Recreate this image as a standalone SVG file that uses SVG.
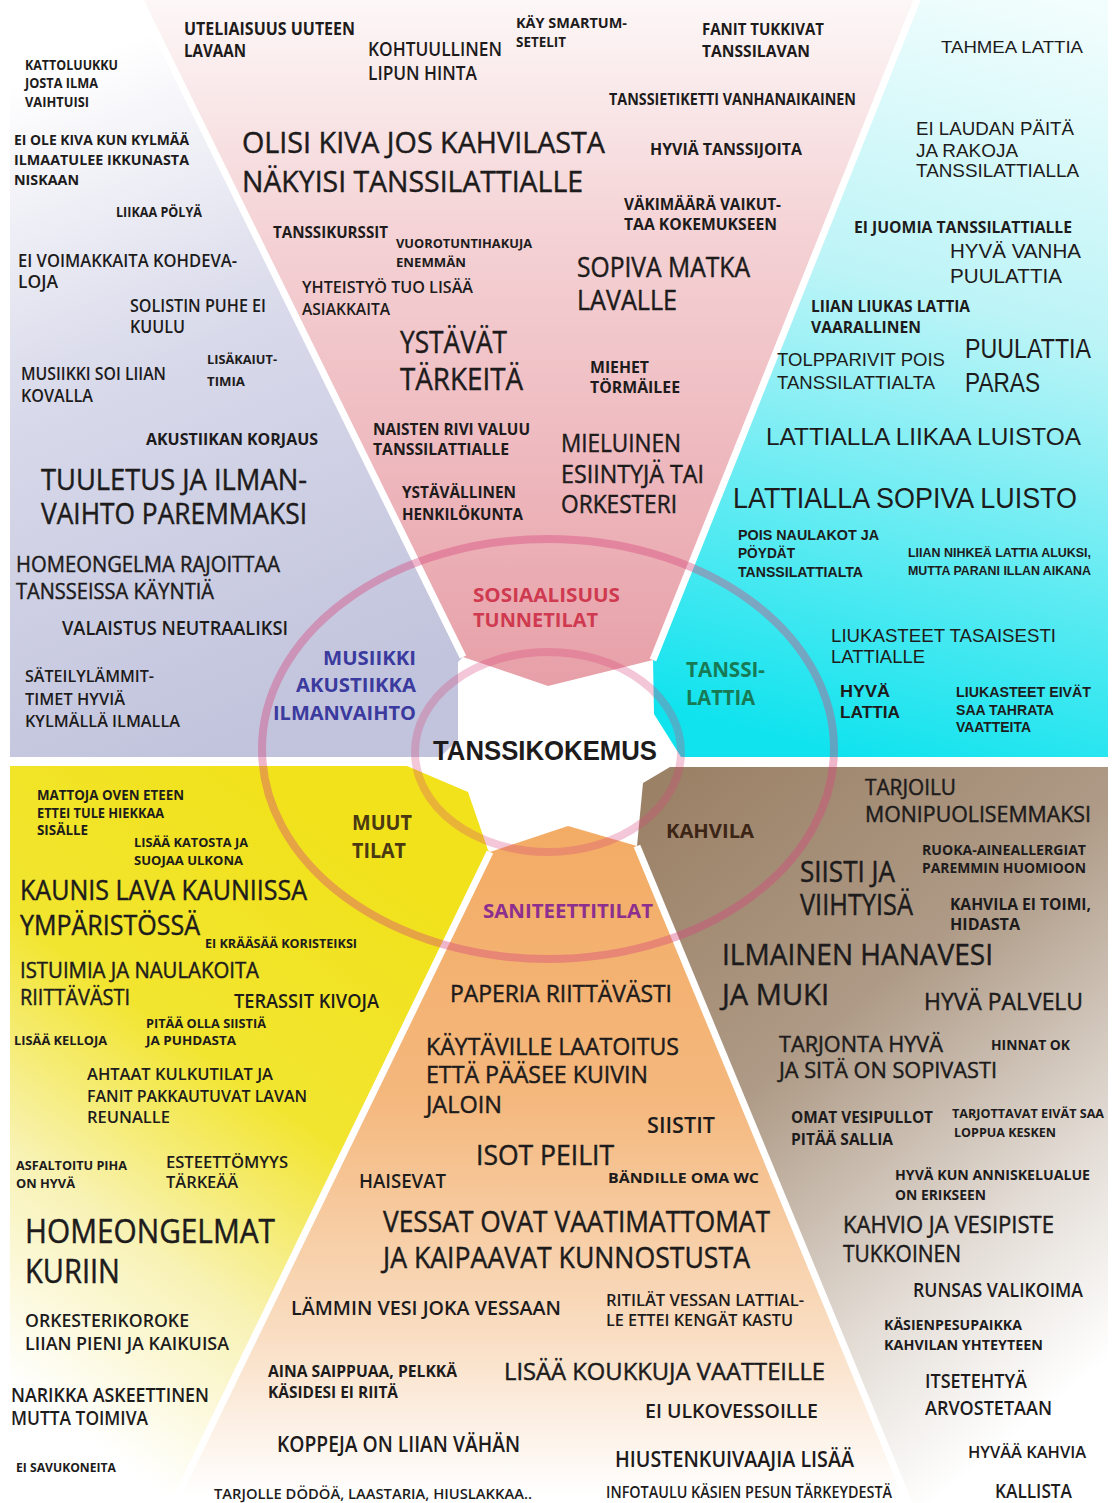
<svg xmlns="http://www.w3.org/2000/svg" width="1114" height="1503" viewBox="0 0 1114 1503">
<style>
.t{font-family:"Open Sans","Liberation Sans",Arial,sans-serif;fill:#1d1b1b}
.h{font-family:"Liberation Sans",Arial,sans-serif;fill:#1d1b1b}
.b{font-weight:700}
.sb{font-weight:600}
.r{font-weight:400}
.t.r{stroke:#1d1b1b;stroke-width:0.45}
.sep{stroke:#ffffff;stroke-width:7;fill:none}
.ring{fill:none;stroke:#d6467c;stroke-width:8}
</style>
<defs>
<linearGradient id="gPink" gradientUnits="userSpaceOnUse" x1="0" y1="0" x2="0" y2="690">
<stop offset="0" stop-color="#fdf7f7"/><stop offset="0.35" stop-color="#f4d1d4"/><stop offset="1" stop-color="#e79fa7"/>
</linearGradient>
<linearGradient id="gPurple" gradientUnits="userSpaceOnUse" x1="80" y1="60" x2="330" y2="700">
<stop offset="0" stop-color="#ffffff"/><stop offset="0.45" stop-color="#d8d9ea"/><stop offset="1" stop-color="#c2c4dd"/>
</linearGradient>
<linearGradient id="gCyan" gradientUnits="userSpaceOnUse" x1="1050" y1="0" x2="850" y2="757">
<stop offset="0" stop-color="#f2fdfd"/><stop offset="0.4" stop-color="#bdf4f7"/><stop offset="1" stop-color="#10e3ee"/>
</linearGradient>
<linearGradient id="gYellow" gradientUnits="userSpaceOnUse" x1="430" y1="900" x2="60" y2="1420">
<stop offset="0" stop-color="#f1e21c"/><stop offset="0.4" stop-color="#f2e530"/><stop offset="0.7" stop-color="#f8f2b5"/><stop offset="1" stop-color="#ffffff"/>
</linearGradient>
<linearGradient id="gOrange" gradientUnits="userSpaceOnUse" x1="0" y1="826" x2="0" y2="1495">
<stop offset="0" stop-color="#f3ac65"/><stop offset="0.4" stop-color="#f4b77c"/><stop offset="0.75" stop-color="#f9dcc0"/><stop offset="1" stop-color="#ffffff"/>
</linearGradient>
<linearGradient id="gBrown" gradientUnits="userSpaceOnUse" x1="660" y1="790" x2="1120" y2="1350">
<stop offset="0" stop-color="#9b8166"/><stop offset="0.4" stop-color="#ae9a86"/><stop offset="0.75" stop-color="#e2dbd4"/><stop offset="1" stop-color="#ffffff"/>
</linearGradient>
</defs>
<rect width="1114" height="1503" fill="#ffffff"/>
<g id="sectors">
<polygon id="sec-musiikki" fill="url(#gPurple)" points="10,0 140,0 463,657 458,662 458,740 440,757 10,757"/>
<polygon id="sec-sosiaalisuus" fill="url(#gPink)" points="140,0 917,0 653,660 548,686 463,657"/>
<polygon id="sec-tanssilattia" fill="url(#gCyan)" points="917,0 1108,0 1108,757 681,757 654,714 653,660"/>
<polygon id="sec-muut" fill="url(#gYellow)" points="10,766 407,766 468,792 488,850 490,852 174,1503 10,1503"/>
<polygon id="sec-saniteetti" fill="url(#gOrange)" points="490,852 568,826 637,846 909,1503 174,1503"/>
<polygon id="sec-kahvila" fill="url(#gBrown)" points="670,767 1108,767 1108,1503 909,1503 637,846 643,783"/>
</g>
<g id="connectors">
<line class="sep" x1="135" y1="-10" x2="463" y2="657"/>
<line class="sep" x1="921" y1="-10" x2="653" y2="660"/>
<line class="sep" x1="490" y1="852" x2="168" y2="1515"/>
<line class="sep" x1="637" y1="846" x2="914" y2="1515"/>
<ellipse class="ring" cx="548" cy="749" rx="286" ry="210" opacity="0.4"/>
<ellipse class="ring" cx="548" cy="752" rx="133" ry="100" opacity="0.3"/>
</g>

<g id="center">
<text class="h b" font-size="27" x="433" y="760" textLength="224" lengthAdjust="spacingAndGlyphs">TANSSIKOKEMUS</text>
</g>

<g id="cat-sosiaalisuus">
<text class="t b" style="fill:#cf3a50" font-size="20" x="473" y="602" textLength="147" lengthAdjust="spacingAndGlyphs">SOSIAALISUUS</text>
<text class="t b" style="fill:#cf3a50" font-size="20" x="473" y="627" textLength="125" lengthAdjust="spacingAndGlyphs">TUNNETILAT</text>
</g>
<g id="cat-musiikki">
<text class="t b" style="fill:#3b3a9e" font-size="20" x="323" y="665" textLength="93" lengthAdjust="spacingAndGlyphs">MUSIIKKI</text>
<text class="t b" style="fill:#3b3a9e" font-size="20" x="296" y="692" textLength="120" lengthAdjust="spacingAndGlyphs">AKUSTIIKKA</text>
<text class="t b" style="fill:#3b3a9e" font-size="20" x="273" y="720" textLength="143" lengthAdjust="spacingAndGlyphs">ILMANVAIHTO</text>
</g>
<g id="cat-tanssilattia">
<text class="t b" style="fill:#187a55" font-size="21" x="686" y="677" textLength="79" lengthAdjust="spacingAndGlyphs">TANSSI-</text>
<text class="t b" style="fill:#187a55" font-size="21" x="686" y="705" textLength="69" lengthAdjust="spacingAndGlyphs">LATTIA</text>
</g>
<g id="cat-muut">
<text class="t b" style="fill:#4b3912" font-size="21" x="352" y="830" textLength="60" lengthAdjust="spacingAndGlyphs">MUUT</text>
<text class="t b" style="fill:#4b3912" font-size="21" x="352" y="858" textLength="54" lengthAdjust="spacingAndGlyphs">TILAT</text>
</g>
<g id="cat-saniteetti">
<text class="t b" style="fill:#8c2f8f" font-size="20" x="483" y="918" textLength="170" lengthAdjust="spacingAndGlyphs">SANITEETTITILAT</text>
</g>
<g id="cat-kahvila">
<text class="t b" style="fill:#3d2516" font-size="20" x="666" y="838" textLength="88" lengthAdjust="spacingAndGlyphs">KAHVILA</text>
</g>

<g id="notes-sosiaalisuus">
<g id="n-uteliaisuus"><text class="t b" font-size="17" x="184" y="35" textLength="171" lengthAdjust="spacingAndGlyphs">UTELIAISUUS UUTEEN</text><text class="t b" font-size="17" x="184" y="57" textLength="62" lengthAdjust="spacingAndGlyphs">LAVAAN</text></g>
<g id="n-kohtuullinen"><text class="t sb" font-size="20" x="368" y="56" textLength="134" lengthAdjust="spacingAndGlyphs">KOHTUULLINEN</text><text class="t sb" font-size="20" x="368" y="80" textLength="109" lengthAdjust="spacingAndGlyphs">LIPUN HINTA</text></g>
<g id="n-smartum"><text class="t b" font-size="14" x="516" y="28" textLength="111" lengthAdjust="spacingAndGlyphs">KÄY SMARTUM-</text><text class="t b" font-size="14" x="516" y="47" textLength="50" lengthAdjust="spacingAndGlyphs">SETELIT</text></g>
<g id="n-fanit"><text class="t b" font-size="16" x="702" y="35" textLength="122" lengthAdjust="spacingAndGlyphs">FANIT TUKKIVAT</text><text class="t b" font-size="16" x="702" y="57" textLength="108" lengthAdjust="spacingAndGlyphs">TANSSILAVAN</text></g>
<g id="n-tanssietiketti"><text class="t b" font-size="16" x="609" y="105" textLength="247" lengthAdjust="spacingAndGlyphs">TANSSIETIKETTI VANHANAIKAINEN</text></g>
<g id="n-olisikiva"><text class="t r" font-size="30" x="242" y="153" textLength="363" lengthAdjust="spacingAndGlyphs">OLISI KIVA JOS KAHVILASTA</text><text class="t r" font-size="30" x="242" y="192" textLength="341" lengthAdjust="spacingAndGlyphs">NÄKYISI TANSSILATTIALLE</text></g>
<g id="n-hyviatanssijoita"><text class="t b" font-size="16" x="650" y="155" textLength="152" lengthAdjust="spacingAndGlyphs">HYVIÄ TANSSIJOITA</text></g>
<g id="n-vakimaara"><text class="t b" font-size="16" x="624" y="210" textLength="157" lengthAdjust="spacingAndGlyphs">VÄKIMÄÄRÄ VAIKUT-</text><text class="t b" font-size="16" x="624" y="230" textLength="153" lengthAdjust="spacingAndGlyphs">TAA KOKEMUKSEEN</text></g>
<g id="n-tanssikurssit"><text class="t b" font-size="16" x="273" y="238" textLength="115" lengthAdjust="spacingAndGlyphs">TANSSIKURSSIT</text></g>
<g id="n-vuorotunti"><text class="t b" font-size="13" x="396" y="248" textLength="136" lengthAdjust="spacingAndGlyphs">VUOROTUNTIHAKUJA</text><text class="t b" font-size="13" x="396" y="267" textLength="70" lengthAdjust="spacingAndGlyphs">ENEMMÄN</text></g>
<g id="n-yhteistyo"><text class="t sb" font-size="17" x="302" y="293" textLength="171" lengthAdjust="spacingAndGlyphs">YHTEISTYÖ TUO LISÄÄ</text><text class="t sb" font-size="17" x="302" y="315" textLength="88" lengthAdjust="spacingAndGlyphs">ASIAKKAITA</text></g>
<g id="n-sopivamatka"><text class="t r" font-size="27" x="577" y="277" textLength="173" lengthAdjust="spacingAndGlyphs">SOPIVA MATKA</text><text class="t r" font-size="27" x="577" y="310" textLength="100" lengthAdjust="spacingAndGlyphs">LAVALLE</text></g>
<g id="n-ystavat"><text class="t r" font-size="31" x="400" y="353" textLength="107" lengthAdjust="spacingAndGlyphs">YSTÄVÄT</text><text class="t r" font-size="31" x="400" y="390" textLength="123" lengthAdjust="spacingAndGlyphs">TÄRKEITÄ</text></g>
<g id="n-miehet"><text class="t b" font-size="16" x="590" y="373" textLength="59" lengthAdjust="spacingAndGlyphs">MIEHET</text><text class="t b" font-size="16" x="590" y="393" textLength="90" lengthAdjust="spacingAndGlyphs">TÖRMÄILEE</text></g>
<g id="n-naisten"><text class="t b" font-size="16" x="373" y="435" textLength="157" lengthAdjust="spacingAndGlyphs">NAISTEN RIVI VALUU</text><text class="t b" font-size="16" x="373" y="455" textLength="136" lengthAdjust="spacingAndGlyphs">TANSSILATTIALLE</text></g>
<g id="n-mieluinen"><text class="t r" font-size="25" x="561" y="452" textLength="120" lengthAdjust="spacingAndGlyphs">MIELUINEN</text><text class="t r" font-size="25" x="561" y="483" textLength="143" lengthAdjust="spacingAndGlyphs">ESIINTYJÄ TAI</text><text class="t r" font-size="25" x="561" y="513" textLength="116" lengthAdjust="spacingAndGlyphs">ORKESTERI</text></g>
<g id="n-ystavallinen"><text class="t b" font-size="16" x="402" y="498" textLength="114" lengthAdjust="spacingAndGlyphs">YSTÄVÄLLINEN</text><text class="t b" font-size="16" x="402" y="520" textLength="121" lengthAdjust="spacingAndGlyphs">HENKILÖKUNTA</text></g>
</g>

<g id="notes-musiikki">
<g id="n-kattoluukku"><text class="t b" font-size="14" x="25" y="70" textLength="93" lengthAdjust="spacingAndGlyphs">KATTOLUUKKU</text><text class="t b" font-size="14" x="25" y="88" textLength="73" lengthAdjust="spacingAndGlyphs">JOSTA ILMA</text><text class="t b" font-size="14" x="25" y="107" textLength="64" lengthAdjust="spacingAndGlyphs">VAIHTUISI</text></g>
<g id="n-kylmaa"><text class="t b" font-size="15" x="14" y="145" textLength="175" lengthAdjust="spacingAndGlyphs">EI OLE KIVA KUN KYLMÄÄ</text><text class="t b" font-size="15" x="14" y="165" textLength="175" lengthAdjust="spacingAndGlyphs">ILMAATULEE IKKUNASTA</text><text class="t b" font-size="15" x="14" y="185" textLength="65" lengthAdjust="spacingAndGlyphs">NISKAAN</text></g>
<g id="n-polya"><text class="t b" font-size="14" x="116" y="217" textLength="86" lengthAdjust="spacingAndGlyphs">LIIKAA PÖLYÄ</text></g>
<g id="n-kohdevaloja"><text class="t sb" font-size="18" x="18" y="267" textLength="219" lengthAdjust="spacingAndGlyphs">EI VOIMAKKAITA KOHDEVA-</text><text class="t sb" font-size="18" x="18" y="288" textLength="40" lengthAdjust="spacingAndGlyphs">LOJA</text></g>
<g id="n-solistin"><text class="t sb" font-size="18" x="130" y="312" textLength="136" lengthAdjust="spacingAndGlyphs">SOLISTIN PUHE EI</text><text class="t sb" font-size="18" x="130" y="333" textLength="55" lengthAdjust="spacingAndGlyphs">KUULU</text></g>
<g id="n-kovalla"><text class="t sb" font-size="18" x="21" y="380" textLength="145" lengthAdjust="spacingAndGlyphs">MUSIIKKI SOI LIIAN</text><text class="t sb" font-size="18" x="21" y="402" textLength="72" lengthAdjust="spacingAndGlyphs">KOVALLA</text></g>
<g id="n-lisakaiut"><text class="t b" font-size="13" x="207" y="364" textLength="70" lengthAdjust="spacingAndGlyphs">LISÄKAIUT-</text><text class="t b" font-size="13" x="207" y="386" textLength="38" lengthAdjust="spacingAndGlyphs">TIMIA</text></g>
<g id="n-akustiikan"><text class="t b" font-size="16" x="146" y="445" textLength="172" lengthAdjust="spacingAndGlyphs">AKUSTIIKAN KORJAUS</text></g>
<g id="n-tuuletus"><text class="t r" font-size="29" x="41" y="490" textLength="266" lengthAdjust="spacingAndGlyphs">TUULETUS JA ILMAN-</text><text class="t r" font-size="29" x="41" y="524" textLength="266" lengthAdjust="spacingAndGlyphs">VAIHTO PAREMMAKSI</text></g>
<g id="n-homeongelma"><text class="t r" font-size="22" x="16" y="572" textLength="264" lengthAdjust="spacingAndGlyphs">HOMEONGELMA RAJOITTAA</text><text class="t r" font-size="22" x="16" y="599" textLength="198" lengthAdjust="spacingAndGlyphs">TANSSEISSA KÄYNTIÄ</text></g>
<g id="n-valaistus"><text class="t sb" font-size="20" x="62" y="635" textLength="226" lengthAdjust="spacingAndGlyphs">VALAISTUS NEUTRAALIKSI</text></g>
<g id="n-sateily"><text class="t sb" font-size="17" x="25" y="682" textLength="129" lengthAdjust="spacingAndGlyphs">SÄTEILYLÄMMIT-</text><text class="t sb" font-size="17" x="25" y="705" textLength="100" lengthAdjust="spacingAndGlyphs">TIMET HYVIÄ</text><text class="t sb" font-size="17" x="25" y="727" textLength="155" lengthAdjust="spacingAndGlyphs">KYLMÄLLÄ ILMALLA</text></g>
</g>

<g id="notes-tanssilattia">
<g id="n-tahmea"><text class="h r" font-size="16" x="941" y="53" textLength="142" lengthAdjust="spacingAndGlyphs">TAHMEA LATTIA</text></g>
<g id="n-laudan"><text class="h r" font-size="18" x="916" y="135" textLength="158" lengthAdjust="spacingAndGlyphs">EI LAUDAN PÄITÄ</text><text class="h r" font-size="18" x="916" y="157" textLength="102" lengthAdjust="spacingAndGlyphs">JA RAKOJA</text><text class="h r" font-size="18" x="916" y="177" textLength="163" lengthAdjust="spacingAndGlyphs">TANSSILATTIALLA</text></g>
<g id="n-juomia"><text class="t b" font-size="16" x="854" y="233" textLength="218" lengthAdjust="spacingAndGlyphs">EI JUOMIA TANSSILATTIALLE</text></g>
<g id="n-hyvavanha"><text class="h r" font-size="21" x="950" y="258" textLength="131" lengthAdjust="spacingAndGlyphs">HYVÄ VANHA</text><text class="h r" font-size="21" x="950" y="283" textLength="112" lengthAdjust="spacingAndGlyphs">PUULATTIA</text></g>
<g id="n-liukas"><text class="t b" font-size="16" x="811" y="312" textLength="159" lengthAdjust="spacingAndGlyphs">LIIAN LIUKAS LATTIA</text><text class="t b" font-size="16" x="811" y="333" textLength="110" lengthAdjust="spacingAndGlyphs">VAARALLINEN</text></g>
<g id="n-tolpparivit"><text class="h r" font-size="18" x="777" y="366" textLength="168" lengthAdjust="spacingAndGlyphs">TOLPPARIVIT POIS</text><text class="h r" font-size="18" x="777" y="389" textLength="158" lengthAdjust="spacingAndGlyphs">TANSSILATTIALTA</text></g>
<g id="n-puulattia"><text class="h r" font-size="28" x="965" y="358" textLength="126" lengthAdjust="spacingAndGlyphs">PUULATTIA</text><text class="h r" font-size="28" x="965" y="392" textLength="75" lengthAdjust="spacingAndGlyphs">PARAS</text></g>
<g id="n-liikaaluistoa"><text class="h r" font-size="23" x="766" y="445" textLength="315" lengthAdjust="spacingAndGlyphs">LATTIALLA LIIKAA LUISTOA</text></g>
<g id="n-sopivaluisto"><text class="h r" font-size="29" x="733" y="508" textLength="344" lengthAdjust="spacingAndGlyphs">LATTIALLA SOPIVA LUISTO</text></g>
<g id="n-naulakot"><text class="h b" font-size="14" x="738" y="540" textLength="141" lengthAdjust="spacingAndGlyphs">POIS NAULAKOT JA</text><text class="h b" font-size="14" x="738" y="558" textLength="57" lengthAdjust="spacingAndGlyphs">PÖYDÄT</text><text class="h b" font-size="14" x="738" y="577" textLength="125" lengthAdjust="spacingAndGlyphs">TANSSILATTIALTA</text></g>
<g id="n-nihkea"><text class="h b" font-size="13" x="908" y="557" textLength="183" lengthAdjust="spacingAndGlyphs">LIIAN NIHKEÄ LATTIA ALUKSI,</text><text class="h b" font-size="13" x="908" y="575" textLength="183" lengthAdjust="spacingAndGlyphs">MUTTA PARANI ILLAN AIKANA</text></g>
<g id="n-liukasteet"><text class="h r" font-size="19" x="831" y="642" textLength="225" lengthAdjust="spacingAndGlyphs">LIUKASTEET TASAISESTI</text><text class="h r" font-size="19" x="831" y="663" textLength="94" lengthAdjust="spacingAndGlyphs">LATTIALLE</text></g>
<g id="n-hyvalattia"><text class="h b" font-size="16" x="840" y="697" textLength="50" lengthAdjust="spacingAndGlyphs">HYVÄ</text><text class="h b" font-size="16" x="840" y="718" textLength="60" lengthAdjust="spacingAndGlyphs">LATTIA</text></g>
<g id="n-tahrata"><text class="h b" font-size="14" x="956" y="697" textLength="135" lengthAdjust="spacingAndGlyphs">LIUKASTEET EIVÄT</text><text class="h b" font-size="14" x="956" y="715" textLength="98" lengthAdjust="spacingAndGlyphs">SAA TAHRATA</text><text class="h b" font-size="14" x="956" y="732" textLength="75" lengthAdjust="spacingAndGlyphs">VAATTEITA</text></g>
</g>

<g id="notes-muut">
<g id="n-mattoja"><text class="t b" font-size="14" x="37" y="800" textLength="147" lengthAdjust="spacingAndGlyphs">MATTOJA OVEN ETEEN</text><text class="t b" font-size="14" x="37" y="818" textLength="127" lengthAdjust="spacingAndGlyphs">ETTEI TULE HIEKKAA</text><text class="t b" font-size="14" x="37" y="835" textLength="51" lengthAdjust="spacingAndGlyphs">SISÄLLE</text></g>
<g id="n-katosta"><text class="t b" font-size="13" x="134" y="847" textLength="114" lengthAdjust="spacingAndGlyphs">LISÄÄ KATOSTA JA</text><text class="t b" font-size="13" x="134" y="865" textLength="109" lengthAdjust="spacingAndGlyphs">SUOJAA ULKONA</text></g>
<g id="n-kaunislava"><text class="t r" font-size="28" x="20" y="900" textLength="287" lengthAdjust="spacingAndGlyphs">KAUNIS LAVA KAUNIISSA</text><text class="t r" font-size="28" x="20" y="935" textLength="180" lengthAdjust="spacingAndGlyphs">YMPÄRISTÖSSÄ</text></g>
<g id="n-kraasaa"><text class="t b" font-size="12" x="205" y="948" textLength="152" lengthAdjust="spacingAndGlyphs">EI KRÄÄSÄÄ KORISTEIKSI</text></g>
<g id="n-istuimia"><text class="t r" font-size="22" x="20" y="978" textLength="239" lengthAdjust="spacingAndGlyphs">ISTUIMIA JA NAULAKOITA</text><text class="t r" font-size="22" x="20" y="1005" textLength="110" lengthAdjust="spacingAndGlyphs">RIITTÄVÄSTI</text></g>
<g id="n-terassit"><text class="t sb" font-size="20" x="234" y="1008" textLength="145" lengthAdjust="spacingAndGlyphs">TERASSIT KIVOJA</text></g>
<g id="n-siistia"><text class="t b" font-size="13" x="146" y="1028" textLength="120" lengthAdjust="spacingAndGlyphs">PITÄÄ OLLA SIISTIÄ</text><text class="t b" font-size="13" x="146" y="1045" textLength="90" lengthAdjust="spacingAndGlyphs">JA PUHDASTA</text></g>
<g id="n-kelloja"><text class="t b" font-size="13" x="14" y="1045" textLength="93" lengthAdjust="spacingAndGlyphs">LISÄÄ KELLOJA</text></g>
<g id="n-ahtaat"><text class="t sb" font-size="17" x="87" y="1080" textLength="186" lengthAdjust="spacingAndGlyphs">AHTAAT KULKUTILAT JA</text><text class="t sb" font-size="17" x="87" y="1102" textLength="220" lengthAdjust="spacingAndGlyphs">FANIT PAKKAUTUVAT LAVAN</text><text class="t sb" font-size="17" x="87" y="1123" textLength="83" lengthAdjust="spacingAndGlyphs">REUNALLE</text></g>
<g id="n-asfaltoitu"><text class="t b" font-size="13" x="16" y="1170" textLength="111" lengthAdjust="spacingAndGlyphs">ASFALTOITU PIHA</text><text class="t b" font-size="13" x="16" y="1188" textLength="59" lengthAdjust="spacingAndGlyphs">ON HYVÄ</text></g>
<g id="n-esteettomyys"><text class="t sb" font-size="16" x="166" y="1168" textLength="122" lengthAdjust="spacingAndGlyphs">ESTEETTÖMYYS</text><text class="t sb" font-size="16" x="166" y="1188" textLength="72" lengthAdjust="spacingAndGlyphs">TÄRKEÄÄ</text></g>
<g id="n-homeongelmat"><text class="t r" font-size="33" x="25" y="1243" textLength="250" lengthAdjust="spacingAndGlyphs">HOMEONGELMAT</text><text class="t r" font-size="33" x="25" y="1283" textLength="95" lengthAdjust="spacingAndGlyphs">KURIIN</text></g>
<g id="n-orkesterikoroke"><text class="t sb" font-size="18" x="25" y="1327" textLength="164" lengthAdjust="spacingAndGlyphs">ORKESTERIKOROKE</text><text class="t sb" font-size="18" x="25" y="1350" textLength="204" lengthAdjust="spacingAndGlyphs">LIIAN PIENI JA KAIKUISA</text></g>
<g id="n-narikka"><text class="t sb" font-size="19" x="11" y="1402" textLength="198" lengthAdjust="spacingAndGlyphs">NARIKKA ASKEETTINEN</text><text class="t sb" font-size="19" x="11" y="1425" textLength="137" lengthAdjust="spacingAndGlyphs">MUTTA TOIMIVA</text></g>
<g id="n-savukoneita"><text class="t b" font-size="13" x="16" y="1472" textLength="100" lengthAdjust="spacingAndGlyphs">EI SAVUKONEITA</text></g>
</g>

<g id="notes-saniteetti">
<g id="n-paperia"><text class="t r" font-size="24" x="450" y="1002" textLength="222" lengthAdjust="spacingAndGlyphs">PAPERIA RIITTÄVÄSTI</text></g>
<g id="n-kaytaville"><text class="t r" font-size="24" x="426" y="1055" textLength="253" lengthAdjust="spacingAndGlyphs">KÄYTÄVILLE LAATOITUS</text><text class="t r" font-size="24" x="426" y="1083" textLength="222" lengthAdjust="spacingAndGlyphs">ETTÄ PÄÄSEE KUIVIN</text><text class="t r" font-size="24" x="426" y="1113" textLength="76" lengthAdjust="spacingAndGlyphs">JALOIN</text></g>
<g id="n-siistit"><text class="t sb" font-size="21" x="647" y="1133" textLength="68" lengthAdjust="spacingAndGlyphs">SIISTIT</text></g>
<g id="n-isotpeilit"><text class="t r" font-size="27" x="476" y="1165" textLength="138" lengthAdjust="spacingAndGlyphs">ISOT PEILIT</text></g>
<g id="n-haisevat"><text class="t sb" font-size="19" x="359" y="1188" textLength="87" lengthAdjust="spacingAndGlyphs">HAISEVAT</text></g>
<g id="n-bandille"><text class="t b" font-size="15" x="608" y="1183" textLength="151" lengthAdjust="spacingAndGlyphs">BÄNDILLE OMA WC</text></g>
<g id="n-vessat"><text class="t r" font-size="29" x="383" y="1232" textLength="387" lengthAdjust="spacingAndGlyphs">VESSAT OVAT VAATIMATTOMAT</text><text class="t r" font-size="29" x="383" y="1268" textLength="367" lengthAdjust="spacingAndGlyphs">JA KAIPAAVAT KUNNOSTUSTA</text></g>
<g id="n-lamminvesi"><text class="t sb" font-size="20" x="291" y="1315" textLength="270" lengthAdjust="spacingAndGlyphs">LÄMMIN VESI JOKA VESSAAN</text></g>
<g id="n-ritilat"><text class="t sb" font-size="16" x="606" y="1306" textLength="198" lengthAdjust="spacingAndGlyphs">RITILÄT VESSAN LATTIAL-</text><text class="t sb" font-size="16" x="606" y="1326" textLength="187" lengthAdjust="spacingAndGlyphs">LE ETTEI KENGÄT KASTU</text></g>
<g id="n-saippuaa"><text class="t b" font-size="16" x="268" y="1377" textLength="189" lengthAdjust="spacingAndGlyphs">AINA SAIPPUAA, PELKKÄ</text><text class="t b" font-size="16" x="268" y="1398" textLength="130" lengthAdjust="spacingAndGlyphs">KÄSIDESI EI RIITÄ</text></g>
<g id="n-koukkuja"><text class="t r" font-size="24" x="504" y="1380" textLength="321" lengthAdjust="spacingAndGlyphs">LISÄÄ KOUKKUJA VAATTEILLE</text></g>
<g id="n-ulkovessoille"><text class="t sb" font-size="20" x="645" y="1418" textLength="173" lengthAdjust="spacingAndGlyphs">EI ULKOVESSOILLE</text></g>
<g id="n-koppeja"><text class="t sb" font-size="21" x="277" y="1452" textLength="243" lengthAdjust="spacingAndGlyphs">KOPPEJA ON LIIAN VÄHÄN</text></g>
<g id="n-hiustenkuivaajia"><text class="t sb" font-size="21" x="615" y="1467" textLength="239" lengthAdjust="spacingAndGlyphs">HIUSTENKUIVAAJIA LISÄÄ</text></g>
<g id="n-tarjolle"><text class="t sb" font-size="15" x="214" y="1499" textLength="318" lengthAdjust="spacingAndGlyphs">TARJOLLE DÖDÖÄ, LAASTARIA, HIUSLAKKAA..</text></g>
<g id="n-infotaulu"><text class="t sb" font-size="17" x="606" y="1498" textLength="286" lengthAdjust="spacingAndGlyphs">INFOTAULU KÄSIEN PESUN TÄRKEYDESTÄ</text></g>
</g>

<g id="notes-kahvila">
<g id="n-tarjoilu"><text class="t r" font-size="22" x="865" y="795" textLength="91" lengthAdjust="spacingAndGlyphs">TARJOILU</text><text class="t r" font-size="22" x="865" y="822" textLength="226" lengthAdjust="spacingAndGlyphs">MONIPUOLISEMMAKSI</text></g>
<g id="n-ruoka"><text class="t b" font-size="14" x="922" y="855" textLength="164" lengthAdjust="spacingAndGlyphs">RUOKA-AINEALLERGIAT</text><text class="t b" font-size="14" x="922" y="873" textLength="164" lengthAdjust="spacingAndGlyphs">PAREMMIN HUOMIOON</text></g>
<g id="n-siistija"><text class="t r" font-size="29" x="800" y="882" textLength="95" lengthAdjust="spacingAndGlyphs">SIISTI JA</text><text class="t r" font-size="29" x="800" y="915" textLength="113" lengthAdjust="spacingAndGlyphs">VIIHTYISÄ</text></g>
<g id="n-eitoimi"><text class="t b" font-size="16" x="950" y="910" textLength="141" lengthAdjust="spacingAndGlyphs">KAHVILA EI TOIMI,</text><text class="t b" font-size="16" x="950" y="930" textLength="70" lengthAdjust="spacingAndGlyphs">HIDASTA</text></g>
<g id="n-hanavesi"><text class="t r" font-size="30" x="722" y="965" textLength="271" lengthAdjust="spacingAndGlyphs">ILMAINEN HANAVESI</text><text class="t r" font-size="30" x="722" y="1005" textLength="107" lengthAdjust="spacingAndGlyphs">JA MUKI</text></g>
<g id="n-palvelu"><text class="t r" font-size="24" x="924" y="1010" textLength="159" lengthAdjust="spacingAndGlyphs">HYVÄ PALVELU</text></g>
<g id="n-tarjonta"><text class="t r" font-size="22" x="779" y="1052" textLength="164" lengthAdjust="spacingAndGlyphs">TARJONTA HYVÄ</text><text class="t r" font-size="22" x="779" y="1078" textLength="218" lengthAdjust="spacingAndGlyphs">JA SITÄ ON SOPIVASTI</text></g>
<g id="n-hinnat"><text class="t b" font-size="15" x="991" y="1050" textLength="79" lengthAdjust="spacingAndGlyphs">HINNAT OK</text></g>
<g id="n-vesipullot"><text class="t b" font-size="16" x="791" y="1123" textLength="142" lengthAdjust="spacingAndGlyphs">OMAT VESIPULLOT</text><text class="t b" font-size="16" x="791" y="1145" textLength="102" lengthAdjust="spacingAndGlyphs">PITÄÄ SALLIA</text></g>
<g id="n-tarjottavat"><text class="t b" font-size="13" x="952" y="1118" textLength="152" lengthAdjust="spacingAndGlyphs">TARJOTTAVAT EIVÄT SAA</text><text class="t b" font-size="13" x="954" y="1137" textLength="102" lengthAdjust="spacingAndGlyphs">LOPPUA KESKEN</text></g>
<g id="n-anniskelu"><text class="t b" font-size="15" x="895" y="1180" textLength="195" lengthAdjust="spacingAndGlyphs">HYVÄ KUN ANNISKELUALUE</text><text class="t b" font-size="15" x="895" y="1200" textLength="91" lengthAdjust="spacingAndGlyphs">ON ERIKSEEN</text></g>
<g id="n-kahvio"><text class="t r" font-size="24" x="843" y="1233" textLength="211" lengthAdjust="spacingAndGlyphs">KAHVIO JA VESIPISTE</text><text class="t r" font-size="24" x="843" y="1262" textLength="118" lengthAdjust="spacingAndGlyphs">TUKKOINEN</text></g>
<g id="n-runsas"><text class="t sb" font-size="20" x="913" y="1297" textLength="170" lengthAdjust="spacingAndGlyphs">RUNSAS VALIKOIMA</text></g>
<g id="n-kasienpesu"><text class="t b" font-size="14" x="884" y="1330" textLength="138" lengthAdjust="spacingAndGlyphs">KÄSIENPESUPAIKKA</text><text class="t b" font-size="14" x="884" y="1350" textLength="159" lengthAdjust="spacingAndGlyphs">KAHVILAN YHTEYTEEN</text></g>
<g id="n-itsetehtya"><text class="t sb" font-size="20" x="925" y="1388" textLength="102" lengthAdjust="spacingAndGlyphs">ITSETEHTYÄ</text><text class="t sb" font-size="20" x="925" y="1415" textLength="127" lengthAdjust="spacingAndGlyphs">ARVOSTETAAN</text></g>
<g id="n-hyvaakahvia"><text class="t sb" font-size="17" x="968" y="1458" textLength="118" lengthAdjust="spacingAndGlyphs">HYVÄÄ KAHVIA</text></g>
<g id="n-kallista"><text class="t sb" font-size="19" x="995" y="1498" textLength="77" lengthAdjust="spacingAndGlyphs">KALLISTA</text></g>
</g>
</svg>
